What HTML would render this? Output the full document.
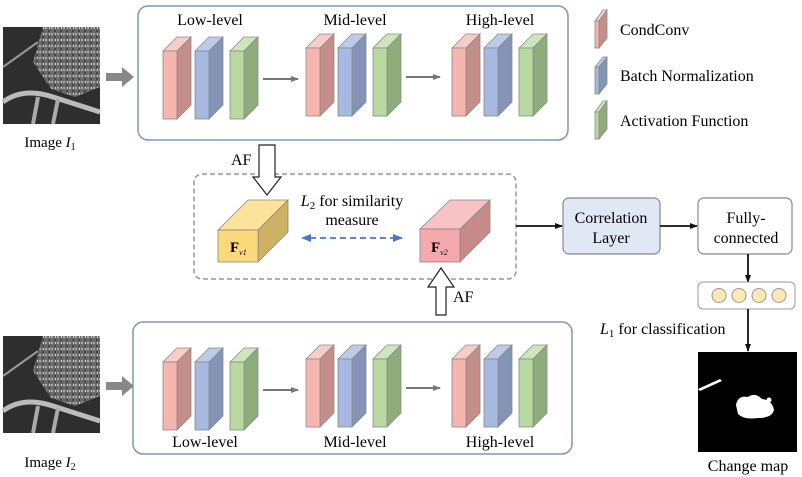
<!DOCTYPE html>
<html><head><meta charset="utf-8"><style>
body{margin:0;background:#fff}
svg{display:block;font-family:"Liberation Serif",serif}
</style></head><body>
<svg width="802" height="477" viewBox="0 0 802 477" xmlns="http://www.w3.org/2000/svg">
<defs>
<g id="pk" stroke="#8a8a8a" stroke-width="0.8">
<polygon points="0,0 14,-14 28,-14 14,0" fill="#f8cdc7"/>
<polygon points="14,0 28,-14 28,54 14,68" fill="#c48f88"/>
<rect x="0" y="0" width="14" height="68" fill="#f4b6ae"/>
</g>
<g id="bl" stroke="#8a8a8a" stroke-width="0.8">
<polygon points="0,0 14,-14 28,-14 14,0" fill="#bccbea"/>
<polygon points="14,0 28,-14 28,54 14,68" fill="#8394b5"/>
<rect x="0" y="0" width="14" height="68" fill="#a6b9e0"/>
</g>
<g id="gr" stroke="#8a8a8a" stroke-width="0.8">
<polygon points="0,0 14,-14 28,-14 14,0" fill="#cde6ba"/>
<polygon points="14,0 28,-14 28,54 14,68" fill="#8fac7c"/>
<rect x="0" y="0" width="14" height="68" fill="#b8d9a0"/>
</g>
<g id="lv">
<use href="#pk" x="0" y="0"/><use href="#bl" x="32" y="0"/><use href="#gr" x="67" y="0"/>
</g>
<marker id="ga" markerWidth="8" markerHeight="8" refX="7" refY="4" orient="auto" markerUnits="userSpaceOnUse"><path d="M0,1 L8,4 L0,7z" fill="#777"/></marker>
<marker id="ka" markerWidth="8" markerHeight="8" refX="7" refY="4" orient="auto" markerUnits="userSpaceOnUse"><path d="M0,1 L8,4 L0,7z" fill="#111"/></marker>
<marker id="ba" markerWidth="10" markerHeight="10" refX="9" refY="5" orient="auto" markerUnits="userSpaceOnUse"><path d="M0,1 L10,5 L0,9z" fill="#4a76c8"/></marker>
<pattern id="tex" width="6" height="6" patternUnits="userSpaceOnUse">
<rect width="6" height="6" fill="#6a6a6a"/><rect width="2" height="2" fill="#aaa"/><rect x="3" y="3" width="2" height="2" fill="#444"/><rect x="4" y="0" width="1" height="2" fill="#ccc"/>
</pattern>
<g id="img">
<rect width="97" height="97" fill="#2e2e2e"/>
<path d="M40,0 L97,0 L97,60 L72,70 L48,62 L30,35z" fill="url(#tex)"/>
<path d="M0,75 Q20,60 50,70 L97,85" stroke="#bbb" stroke-width="5" fill="none"/>
<path d="M35,70 L30,97 M55,72 L50,97" stroke="#aaa" stroke-width="4"/>
<path d="M0,40 L35,15" stroke="#999" stroke-width="2"/>
</g>
</defs>

<use href="#img" x="3" y="27"/>
<use href="#img" x="3" y="336"/>
<text x="50" y="147" font-size="15" text-anchor="middle">Image <tspan font-style="italic">I</tspan><tspan font-size="10" dy="3">1</tspan></text>
<text x="50" y="467" font-size="15" text-anchor="middle">Image <tspan font-style="italic">I</tspan><tspan font-size="10" dy="3">2</tspan></text>
<polygon points="106,73 122,73 122,67 134,77 122,87 122,81 106,81" fill="#888"/>
<polygon points="106,382 122,382 122,376 134,386 122,396 122,390 106,390" fill="#888"/>

<rect x="138" y="6" width="430" height="134" rx="10" fill="none" stroke="#8096b4" stroke-width="1.5"/>
<text x="210" y="25" font-size="16" text-anchor="middle">Low-level</text>
<text x="355" y="25" font-size="16" text-anchor="middle">Mid-level</text>
<text x="500" y="25" font-size="16" text-anchor="middle">High-level</text>
<use href="#lv" x="163" y="51"/>
<use href="#lv" x="306" y="48"/>
<use href="#lv" x="452" y="48"/>
<line x1="263" y1="79" x2="298" y2="79" stroke="#777" stroke-width="2" marker-end="url(#ga)"/>
<line x1="406" y1="77" x2="440" y2="77" stroke="#777" stroke-width="2" marker-end="url(#ga)"/>

<rect x="133" y="322" width="439" height="132" rx="10" fill="none" stroke="#8096b4" stroke-width="1.5"/>
<use href="#lv" x="163" y="362"/>
<use href="#lv" x="306" y="359"/>
<use href="#lv" x="452" y="359"/>
<line x1="263" y1="390" x2="298" y2="390" stroke="#777" stroke-width="2" marker-end="url(#ga)"/>
<line x1="406" y1="388" x2="440" y2="388" stroke="#777" stroke-width="2" marker-end="url(#ga)"/>
<text x="205" y="447" font-size="16" text-anchor="middle">Low-level</text>
<text x="355" y="447" font-size="16" text-anchor="middle">Mid-level</text>
<text x="500" y="447" font-size="16" text-anchor="middle">High-level</text>

<g stroke="#8a8a8a" stroke-width="0.8">
<polygon points="595,21 603,10 607,10 599,21" fill="#f8cdc7"/><polygon points="599,21 607,10 607,38 599,48" fill="#c48f88"/><rect x="595" y="21" width="4" height="27" fill="#f4b6ae"/>
<polygon points="595,67 603,57 607,57 599,67" fill="#bccbea"/><polygon points="599,67 607,57 607,84 599,94" fill="#8394b5"/><rect x="595" y="67" width="4" height="27" fill="#a6b9e0"/>
<polygon points="595,112 603,101 607,101 599,112" fill="#cde6ba"/><polygon points="599,112 607,101 607,129 599,139" fill="#8fac7c"/><rect x="595" y="112" width="4" height="27" fill="#b8d9a0"/>
</g>
<text x="620" y="35" font-size="16">CondConv</text>
<text x="620" y="81" font-size="16">Batch Normalization</text>
<text x="620" y="126" font-size="16">Activation Function</text>

<rect x="194" y="174" width="322" height="105" rx="8" fill="none" stroke="#999" stroke-width="1.5" stroke-dasharray="5,3"/>
<polygon points="259,145 275,145 275,177 281,177 267,195 253,177 259,177" fill="#fff" stroke="#222" stroke-width="1.2"/>
<text x="231" y="165" font-size="16">AF</text>
<polygon points="436,315 446,315 446,287 454,287 441,268 428,287 436,287" fill="#fff" stroke="#222" stroke-width="1.2"/>
<text x="453" y="302" font-size="16">AF</text>
<g stroke="#888" stroke-width="0.8">
<polygon points="218,230 248,200 288,200 258,230" fill="#fde39a"/>
<polygon points="258,230 288,200 288,232 258,262" fill="#cdb264"/>
<rect x="218" y="230" width="40" height="32" fill="#fcd97a"/>
<polygon points="420,229 450,200 490,200 460,229" fill="#f8c3c5"/>
<polygon points="460,229 490,200 490,232 460,262" fill="#c98a8c"/>
<rect x="420" y="229" width="40" height="33" fill="#f5a9ac"/>
</g>
<text x="230" y="252" font-size="15" font-weight="bold">F<tspan font-size="8" font-weight="normal" font-style="italic" dy="3">v1</tspan></text>
<text x="431" y="252" font-size="15" font-weight="bold">F<tspan font-size="8" font-weight="normal" font-style="italic" dy="3">v2</tspan></text>
<text x="352" y="206" font-size="16" text-anchor="middle"><tspan font-style="italic">L</tspan><tspan font-size="11" dy="3">2</tspan><tspan dy="-3"> for similarity</tspan></text>
<text x="352" y="225" font-size="16" text-anchor="middle">measure</text>
<line x1="310" y1="238" x2="402" y2="238" stroke="#4a76c8" stroke-width="1.8" stroke-dasharray="6,4" marker-end="url(#ba)"/>
<line x1="396" y1="238" x2="302" y2="238" stroke="none" marker-end="url(#ba)"/>

<line x1="516" y1="226" x2="562" y2="226" stroke="#111" stroke-width="1.8" marker-end="url(#ka)"/>
<rect x="563" y="198" width="97" height="56" rx="6" fill="#dfe8f4" stroke="#888" stroke-width="1.2"/>
<text x="611" y="223" font-size="16" text-anchor="middle">Correlation</text>
<text x="611" y="243" font-size="16" text-anchor="middle">Layer</text>
<line x1="660" y1="226" x2="697" y2="226" stroke="#111" stroke-width="1.8" marker-end="url(#ka)"/>
<rect x="698" y="198" width="94" height="56" rx="6" fill="#fff" stroke="#888" stroke-width="1.2"/>
<text x="746" y="223" font-size="16" text-anchor="middle">Fully-</text>
<text x="746" y="243" font-size="16" text-anchor="middle">connected</text>
<line x1="748" y1="254" x2="748" y2="282" stroke="#111" stroke-width="1.8" marker-end="url(#ka)"/>
<rect x="698" y="282" width="97" height="27" rx="5" fill="#fff" stroke="#999" stroke-width="1"/>
<g fill="#fde9b6" stroke="#999" stroke-width="1">
<circle cx="719" cy="295.5" r="7"/><circle cx="739" cy="295.5" r="7"/><circle cx="759" cy="295.5" r="7"/><circle cx="779" cy="295.5" r="7"/>
</g>
<line x1="748" y1="309" x2="748" y2="351" stroke="#111" stroke-width="1.8" marker-end="url(#ka)"/>
<text x="600" y="334" font-size="16"><tspan font-style="italic">L</tspan><tspan font-size="11" dy="3">1</tspan><tspan dy="-3"> for classification</tspan></text>
<rect x="698" y="352" width="99" height="100" fill="#000"/>
<path d="M698,389 L720,379 L722,381 L700,391z" fill="#fff"/>
<path d="M736,405 Q738,395 748,397 Q755,392 762,399 Q772,400 774,410 Q772,418 758,418 Q744,420 738,414z" fill="#fff"/>
<circle cx="769" cy="400" r="2.5" fill="#fff"/>
<text x="748" y="471" font-size="16" text-anchor="middle">Change map</text>
</svg>
</body></html>
